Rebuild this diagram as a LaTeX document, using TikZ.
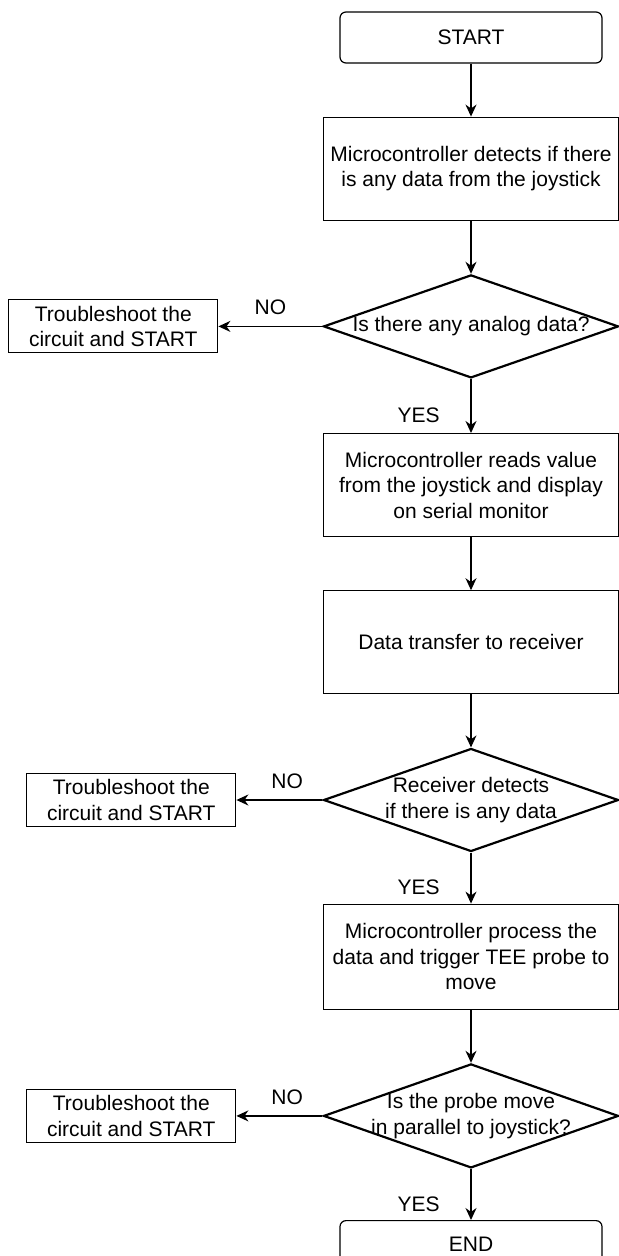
\documentclass[tikz,border=0pt]{standalone}
\usepackage{fontspec}
\setmainfont{Liberation Sans}
\usetikzlibrary{positioning,shapes.geometric,arrows.meta}

\tikzset{
  terminal/.style={rectangle,rounded corners=3pt,draw,black,line width=0.6pt,minimum width=131pt,minimum height=25.5pt,inner sep=0pt},
  process/.style={rectangle,draw,black,line width=0.6pt,minimum width=147.5pt,minimum height=51.5pt,inner sep=0pt,align=center},
  decision/.style={diamond,draw,black,line width=1.1pt,minimum width=147.5pt,minimum height=51.5pt,inner xsep=-30pt,inner ysep=0pt,aspect=2.86,align=center},
  trouble/.style={rectangle,draw,black,line width=0.6pt,minimum width=104.5pt,minimum height=26.5pt,inner sep=0pt,align=center},
  flow/.style={draw,line width=0.7pt,-{Stealth[length=6pt,width=5.5pt]}}
}

\begin{document}
\begin{tikzpicture}[font=\fontsize{10.5}{12.75}\selectfont]
\useasboundingbox (0,0) rectangle (309.5pt,-628pt);

% hauptkette
\node[terminal](start) at (235.5pt,-18.75pt){START};
\node [below =26.5pt of start,process] (p1) {Microcontroller detects if there\\is any data from the joystick};
\node [below =26.5pt of p1,decision] (d1) {Is there any analog data?};
\node [below =27pt of d1,process] (p2) {Microcontroller reads value\\from the joystick and display\\on serial monitor};
\node [below =26.5pt of p2,process] (p3) {Data transfer to receiver};
\node [below =26.5pt of p3,decision] (d2) {Receiver detects\\if there is any data};
\node [below =25.5pt of d2,process,minimum height=52.5pt] (p4) {Microcontroller process the\\data and trigger TEE probe to\\move};
\node [below =26.5pt of p4,decision,minimum height=52pt] (d3) {Is the probe move\\in parallel to joystick?};
\node [below =25.5pt of d3,terminal,minimum height=23.5pt] (ende) {END};

% fehlerfaelle links
\node [left =52pt of d1,trouble] (t1) {Troubleshoot the\\circuit and START};
\node [left =43pt of d2,trouble] (t2) {Troubleshoot the\\circuit and START};
\node [left =43pt of d3,trouble] (t3) {Troubleshoot the\\circuit and START};

% pfeile
\draw [flow] (start) -- (p1);
\draw [flow] (p1) -- (d1);
\draw [flow] (d1) -- node[pos=0.67,left=12pt]{YES} (p2);
\draw [flow] (p2) -- (p3);
\draw [flow] (p3) -- (d2);
\draw [flow] (d2) -- node[pos=0.67,left=12pt]{YES} (p4);
\draw [flow] (p4) -- (d3);
\draw [flow] (d3) -- node[pos=0.69,left=12pt]{YES} (ende);

% nein-zweige
\draw [flow] (d1) -- node[pos=0.5,above=2pt]{NO} (t1);
\draw [flow] (d2) -- node[pos=0.41,above=2pt]{NO} (t2);
\draw [flow] (d3) -- node[pos=0.41,above=2pt]{NO} (t3);

\end{tikzpicture}
\end{document}
